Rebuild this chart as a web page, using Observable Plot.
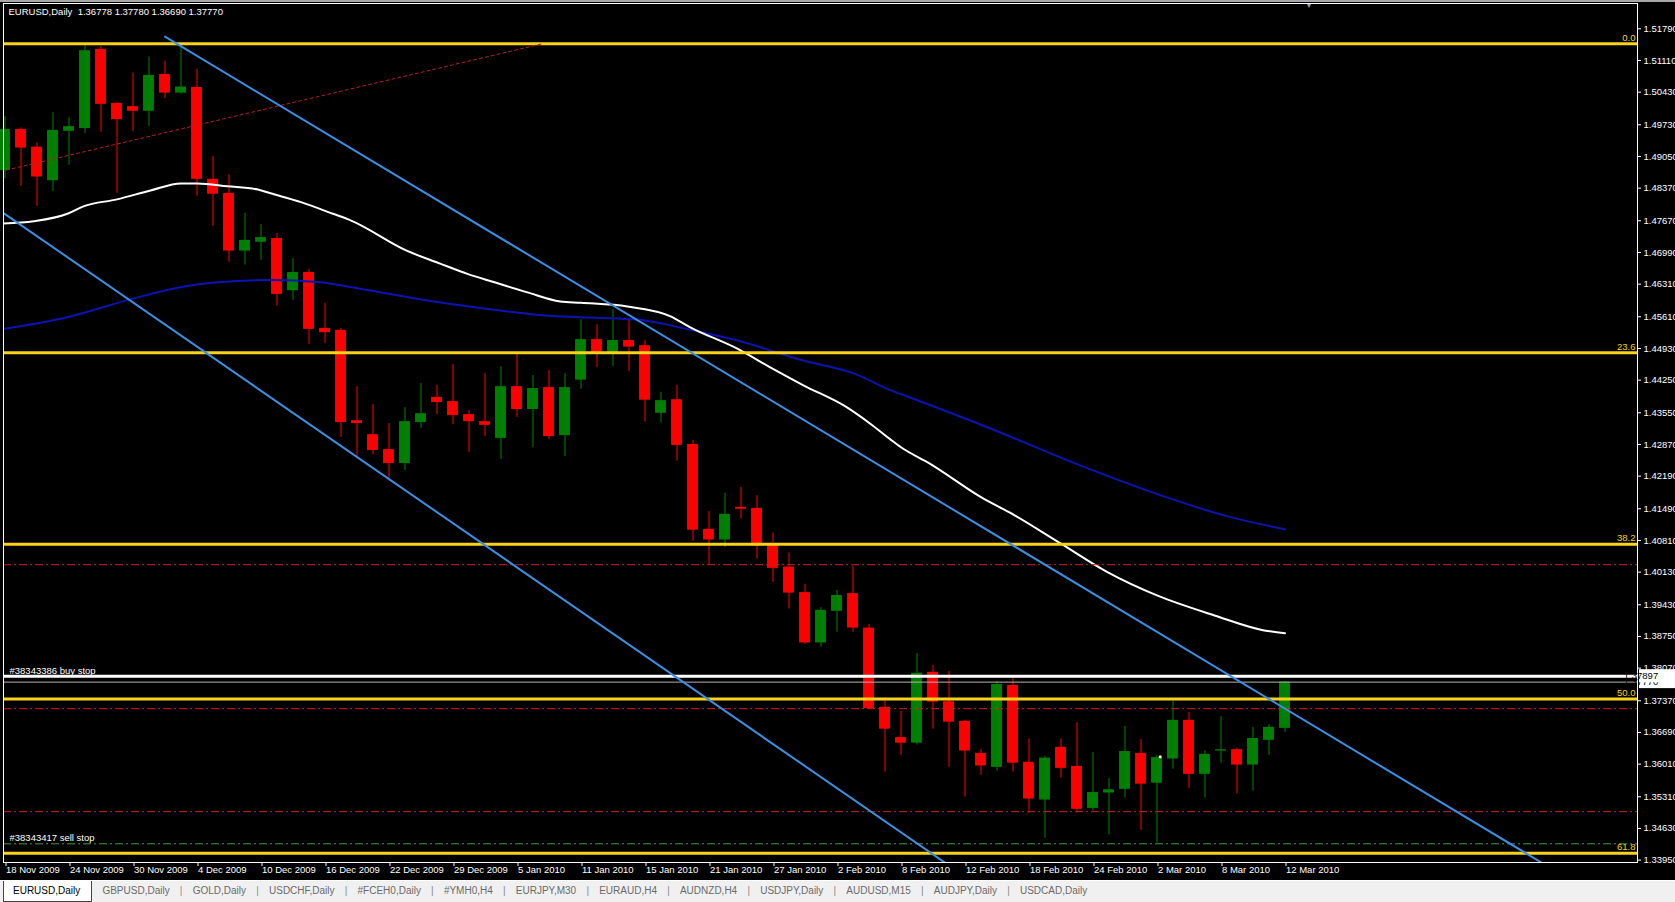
<!DOCTYPE html>
<html>
<head>
<meta charset="utf-8">
<script src="https://cdn.jsdelivr.net/npm/d3@7"></script>
<script src="https://cdn.jsdelivr.net/npm/@observablehq/plot@0.6"></script>
<style>
html,body{margin:0;padding:0;background:#000;width:1675px;height:902px;overflow:hidden;font-family:"Liberation Sans",Arial,sans-serif;}
#topstrip{height:2px;background:#a8a8a8;}
#chart{height:878px;overflow:hidden;}
#chart svg{display:block;}
#tabs{position:relative;height:21px;background:#f0f0f0;border-top:1px solid #ffffff;font-size:10px;color:#6a6a6a;white-space:nowrap;display:flex;align-items:stretch;}
#tabs .active{margin-left:3px;background:#fff;color:#000;border:1px solid #444;border-top:none;padding:0 11px 0 9px;line-height:20px;}
#tabs .tab{padding:0 0 0 10.2px;line-height:20px;}
#tabs .sep{padding:0 0 0 10.2px;line-height:20px;color:#8a8a8a;}
</style>
</head>
<body>
<div id="topstrip"></div>
<div id="chart"></div>
<div id="tabs"></div>
<script>
// ---------------- data ----------------
const dates = [
"2009-11-18","2009-11-19","2009-11-20","2009-11-23","2009-11-24","2009-11-25","2009-11-26","2009-11-27","2009-11-30",
"2009-12-01","2009-12-02","2009-12-03","2009-12-04","2009-12-07","2009-12-08","2009-12-09","2009-12-10","2009-12-11",
"2009-12-14","2009-12-15","2009-12-16","2009-12-17","2009-12-18","2009-12-21","2009-12-22","2009-12-23","2009-12-24",
"2009-12-28","2009-12-29","2009-12-30","2009-12-31",
"2010-01-04","2010-01-05","2010-01-06","2010-01-07","2010-01-08","2010-01-11","2010-01-12","2010-01-13","2010-01-14",
"2010-01-15","2010-01-18","2010-01-19","2010-01-20","2010-01-21","2010-01-22","2010-01-25","2010-01-26","2010-01-27",
"2010-01-28","2010-01-29",
"2010-02-01","2010-02-02","2010-02-03","2010-02-04","2010-02-05","2010-02-08","2010-02-09","2010-02-10","2010-02-11",
"2010-02-12","2010-02-15","2010-02-16","2010-02-17","2010-02-18","2010-02-19","2010-02-22","2010-02-23","2010-02-24",
"2010-02-25","2010-02-26",
"2010-03-01","2010-03-02","2010-03-03","2010-03-04","2010-03-05","2010-03-08","2010-03-09","2010-03-10","2010-03-11",
"2010-03-12"];

const open = [
1.4875,1.4963,1.4925,1.4853,1.4959,1.4965,1.5135,1.5019,1.5012,1.5002,
1.5081,1.5041,1.5053,1.4856,1.4826,1.4702,1.4721,1.4729,1.4617,1.4656,
1.4536,1.4532,1.4338,1.4308,1.4276,1.4246,1.4334,1.4388,1.4379,1.4351,
1.4336,1.4300,1.4411,1.4362,1.4409,1.4306,1.4425,1.4512,1.4483,1.4510,
1.4499,1.4354,1.4383,1.4287,1.4105,1.4082,1.4152,1.4150,1.4071,1.4024,
1.3969,1.3861,1.3929,1.3967,1.3893,1.3723,1.3658,1.3646,1.3798,1.3735,
1.3693,1.3624,1.3594,1.3770,1.3605,1.3524,1.3637,1.3596,1.3506,1.3539,
1.3547,1.3624,1.3560,1.3612,1.3695,1.3579,1.3629,1.3632,1.3599,1.3652,
1.36778];
const high = [
1.4991,1.4966,1.4934,1.4999,1.4988,1.5143,1.5142,1.5020,1.5084,1.5118,
1.5109,1.5145,1.5092,1.4905,1.4866,1.4783,1.4759,1.4740,1.4686,1.4662,
1.4590,1.4536,1.4411,1.4373,1.4332,1.4366,1.4418,1.4414,1.4459,1.4360,
1.4439,1.4454,1.4482,1.4435,1.4446,1.4439,1.4555,1.4544,1.4577,1.4555,
1.4510,1.4399,1.4414,1.4296,1.4143,1.4182,1.4195,1.4177,1.4097,1.4054,
1.3987,1.3937,1.3974,1.4026,1.3901,1.3744,1.3714,1.3838,1.3813,1.3800,
1.3695,1.3632,1.3778,1.3789,1.3655,1.3618,1.3655,1.3690,1.3626,1.3570,
1.3682,1.3654,1.3620,1.3736,1.3712,1.3630,1.3703,1.3635,1.3680,1.3686,
1.37780];
const low = [
1.4857,1.4841,1.4798,1.4830,1.4886,1.4954,1.4957,1.4826,1.4959,1.4969,
1.5029,1.5039,1.4820,1.4755,1.4678,1.4672,1.4682,1.4584,1.4596,1.4502,
1.4504,1.4302,1.4261,1.4265,1.4214,1.4231,1.4321,1.4351,1.4330,1.4270,
1.4304,1.4255,1.4345,1.4280,1.4298,1.4261,1.4405,1.4452,1.4454,1.4444,
1.4335,1.4333,1.4251,1.4079,1.4029,1.4066,1.4127,1.4041,1.3991,1.3934,
1.3858,1.3852,1.3884,1.3884,1.3719,1.3584,1.3620,1.3642,1.3676,1.3594,
1.3530,1.3577,1.3586,1.3584,1.3496,1.3442,1.3571,1.3496,1.3500,1.3449,
1.3528,1.3459,1.3431,1.3590,1.3549,1.3528,1.3603,1.3537,1.3543,1.3620,
1.36690];
const close = [
1.4963,1.4923,1.4861,1.4961,1.4969,1.5132,1.5017,1.4984,1.5002,1.5079,
1.5041,1.5054,1.4856,1.4824,1.4702,1.4725,1.4731,1.4609,1.4656,1.4534,
1.4527,1.4334,1.4332,1.4274,1.4246,1.4336,1.4353,1.4377,1.4349,1.4336,
1.4328,1.4411,1.4362,1.4407,1.4304,1.4409,1.4512,1.4483,1.4510,1.4496,
1.4382,1.4381,1.4285,1.4103,1.4082,1.4137,1.4148,1.4069,1.4021,1.3968,
1.3861,1.3931,1.3963,1.3893,1.3720,1.3676,1.3646,1.3796,1.3734,1.3691,
1.3629,1.3597,1.3772,1.3603,1.3526,1.3614,1.3592,1.3504,1.3540,1.3546,
1.3628,1.3558,1.3615,1.3695,1.3579,1.3622,1.3632,1.3599,1.3656,1.3680,
1.37770];

// moving averages (bar position, price)
const whiteMaBar = [-0.1,1.8,3.9,4.9,7.0,9.1,11.0,12.0,13.9,15.8,16.6,18.5,20.5,21.6,25.1,27.2,28.9,30.6,32.6,34.7,36.0,38.9,41.6,42.8,45.8,47.8,49.9,52.6,54.1,55.3,56.0,57.8,61.0,63.1,66.0,68.9,72.0,75.6,78.7,80.0];
const whiteMaVal = [1.4761,1.4766,1.4782,1.4798,1.4813,1.4832,1.4847,1.4847,1.4841,1.4834,1.4826,1.4807,1.4782,1.4768,1.4703,1.4675,1.4653,1.4635,1.4614,1.4594,1.4591,1.4583,1.4562,1.4539,1.4492,1.4453,1.4414,1.4367,1.4331,1.4299,1.4281,1.4246,1.4174,1.4135,1.4074,1.4013,1.3963,1.3920,1.3888,1.3882];
const blueMaBar = [-0.1,3.9,8.0,11.2,13.3,16.6,19.7,22.2,26.4,30.6,33.7,36.0,39.5,42.6,45.8,49.9,53.1,55.3,56.4,61.4,67.2,71.4,76.6,80.0];
const blueMaVal = [1.4535,1.4560,1.4600,1.4626,1.4635,1.4640,1.4635,1.4621,1.4596,1.4576,1.4564,1.4560,1.4555,1.4535,1.4510,1.4467,1.4439,1.4404,1.4390,1.4324,1.4242,1.4188,1.4131,1.4105];

// drawn objects
const fibLabels = ["0.0","23.6","38.2","50.0","61.8"];
const fibPrices = [1.5147,1.4484,1.4073,1.3741,1.3410];
const redLevels = [1.4029,1.3720,1.3499];
const sellStopPrice = 1.3430;
const buyStopPrice = 1.37897;
const bidPrice = 1.3777;
const upperTrendBar = [10,100],  upperTrendPrice = [1.5162,1.3308];
const lowerTrendBar = [-1,70],   lowerTrendPrice = [1.4805,1.3123];
const fibLineBar = [-1,33.6],    fibLinePrice = [1.4867,1.5147];
const shiftMarkBar = 81.5;
const orderMark = {bar:72.2, price:1.3617};

const priceTicks = [1.5179,1.5111,1.5043,1.4973,1.4905,1.4837,1.4767,1.4699,1.4631,1.4561,1.4493,1.4425,1.4355,1.4287,1.4219,1.4149,1.4081,1.4013,1.3943,1.3875,1.3807,1.3737,1.3669,1.3601,1.3531,1.3463,1.3395];
const header = "EURUSD,Daily  1.36778 1.37780 1.36690 1.37770";
const buyStopText = "#38343386 buy stop";
const sellStopText = "#38343417 sell stop";
const tabNames = ["EURUSD,Daily","GBPUSD,Daily","GOLD,Daily","USDCHF,Daily","#FCEH0,Daily","#YMH0,H4","EURJPY,M30","EURAUD,H4","AUDNZD,H4","USDJPY,Daily","AUDUSD,M15","AUDJPY,Daily","USDCAD,Daily"];

// ---------------- styles ----------------
const RED = "#ff0000", GREEN = "#008000", YELLOW = "#f9d21c", TREND = "#3c8fe3",
      BLUE_MA = "#0a14b4", DASHRED = "#c81e1e", DASHGREEN = "#3ca03c", FIBLINE = "#b22222";

const bars = dates.map((d, i) => ({i, date: new Date(d), o: open[i], h: high[i], l: low[i], c: close[i]}));
const candleColor = d => d.c >= d.o ? GREEN : RED;
const fmtDate = d3.utcFormat("%-d %b %Y");
const tickBars = bars.filter(d => d.i % 4 === 0).map(d => d.i);
const zip = (xs, ys) => xs.map((x, k) => ({x, y: ys[k]}));

const priceBoxes = [{p: bidPrice, t: bidPrice.toFixed(5)}, {p: buyStopPrice, t: buyStopPrice.toFixed(5)}];

function priceBoxMark(index, scales, values, dimensions) {
  const g = d3.create("svg:g");
  const x0 = dimensions.width - dimensions.marginRight + 2;
  for (const b of priceBoxes) {
    const y = scales.y(b.p);
    g.append("rect").attr("x", x0).attr("y", y - 6.5).attr("width", 40).attr("height", 13).attr("fill", "#fff");
    g.append("text").attr("x", x0 + 2).attr("y", y).attr("dy", "0.35em")
      .attr("fill", "#000").attr("font-size", 9.5).text(b.t);
  }
  return g.node();
}

const chart = Plot.plot({
  width: 1675, height: 878,
  marginTop: 1, marginLeft: 3, marginRight: 38, marginBottom: 18,
  style: {background: "#000", color: "#fff", fontFamily: "Liberation Sans, Arial, sans-serif", fontSize: "9.5px"},
  x: {type: "linear", domain: [-0.09375, 102.03125], axis: null},
  y: {type: "linear", domain: [1.33899, 1.52333], axis: null},
  color: {type: "identity"},
  marks: [
    // candles
    Plot.ruleX(bars, {x: "i", y1: "l", y2: "h", stroke: candleColor, strokeWidth: 1}),
    Plot.rect(bars, {x1: d => d.i - 0.34, x2: d => d.i + 0.34, y1: "o", y2: "c", fill: candleColor}),
    // moving averages
    Plot.line(zip(blueMaBar, blueMaVal), {x: "x", y: "y", stroke: BLUE_MA, strokeWidth: 2, curve: "monotone-x", clip: true}),
    Plot.line(zip(whiteMaBar, whiteMaVal), {x: "x", y: "y", stroke: "#fff", strokeWidth: 2, curve: "monotone-x", clip: true}),
    // horizontal levels
    Plot.ruleY(redLevels, {stroke: DASHRED, strokeWidth: 1, strokeDasharray: "8,3,2,3"}),
    Plot.ruleY([sellStopPrice], {stroke: DASHGREEN, strokeWidth: 1, strokeDasharray: "8,3,2,3"}),
    Plot.ruleY([bidPrice], {stroke: "#b4b4b4", strokeWidth: 1}),
    Plot.ruleY([buyStopPrice], {stroke: "#fff", strokeWidth: 3}),
    Plot.ruleY(fibPrices, {stroke: YELLOW, strokeWidth: 3}),
    // fibonacci connecting line and trendlines
    Plot.line(zip(fibLineBar, fibLinePrice), {x: "x", y: "y", stroke: FIBLINE, strokeWidth: 1, strokeDasharray: "3,3", clip: true}),
    Plot.line(zip(upperTrendBar, upperTrendPrice), {x: "x", y: "y", stroke: TREND, strokeWidth: 2, clip: true}),
    Plot.line(zip(lowerTrendBar, lowerTrendPrice), {x: "x", y: "y", stroke: TREND, strokeWidth: 2, clip: true}),
    Plot.dot([orderMark], {x: "bar", y: "price", r: 1.5, fill: "#fff"}),
    // labels
    Plot.text(fibLabels.map((t, k) => ({t, p: fibPrices[k]})), {frameAnchor: "right", y: "p", text: "t", textAnchor: "end", dx: -2, dy: -6, fill: YELLOW, fontSize: 9.5}),
    Plot.text([{t: buyStopText, p: buyStopPrice}], {frameAnchor: "left", y: "p", text: "t", textAnchor: "start", dx: 6, dy: -5, fill: "#fff", fontSize: 9.5}),
    Plot.text([{t: sellStopText, p: sellStopPrice}], {frameAnchor: "left", y: "p", text: "t", textAnchor: "start", dx: 6, dy: -6, fill: "#fff", fontSize: 9.5}),
    Plot.text([header], {frameAnchor: "top-left", text: d => d, textAnchor: "start", lineAnchor: "top", dx: 5, dy: 5, fill: "#fff", fontSize: 9.5}),
    Plot.text([shiftMarkBar], {x: d => d, frameAnchor: "top", text: () => "▼", fill: "#9a9a9a", fontSize: 7, lineAnchor: "top", dy: 0}),
    // frame and axes
    Plot.frame({stroke: "#fff", strokeWidth: 1}),
    Plot.axisY({anchor: "right", ticks: priceTicks, tickFormat: d => d.toFixed(5), tickSize: 3, tickPadding: 3, label: null, fontSize: 9.5}),
    Plot.axisX({anchor: "bottom", ticks: tickBars, tickFormat: i => fmtDate(bars[i].date), tickSize: 4, tickPadding: 0, textAnchor: "start", dx: 1, label: null, fontSize: 9.5}),
    priceBoxMark
  ]
});
document.getElementById("chart").appendChild(chart);

// ---------------- tab bar ----------------
const tabs = document.getElementById("tabs");
tabNames.forEach((name, k) => {
  if (k > 1) { const s = document.createElement("span"); s.className = "sep"; s.textContent = "|"; tabs.appendChild(s); }
  const t = document.createElement("span");
  t.className = k === 0 ? "active" : "tab";
  t.textContent = name;
  tabs.appendChild(t);
});
</script>
</body>
</html>
